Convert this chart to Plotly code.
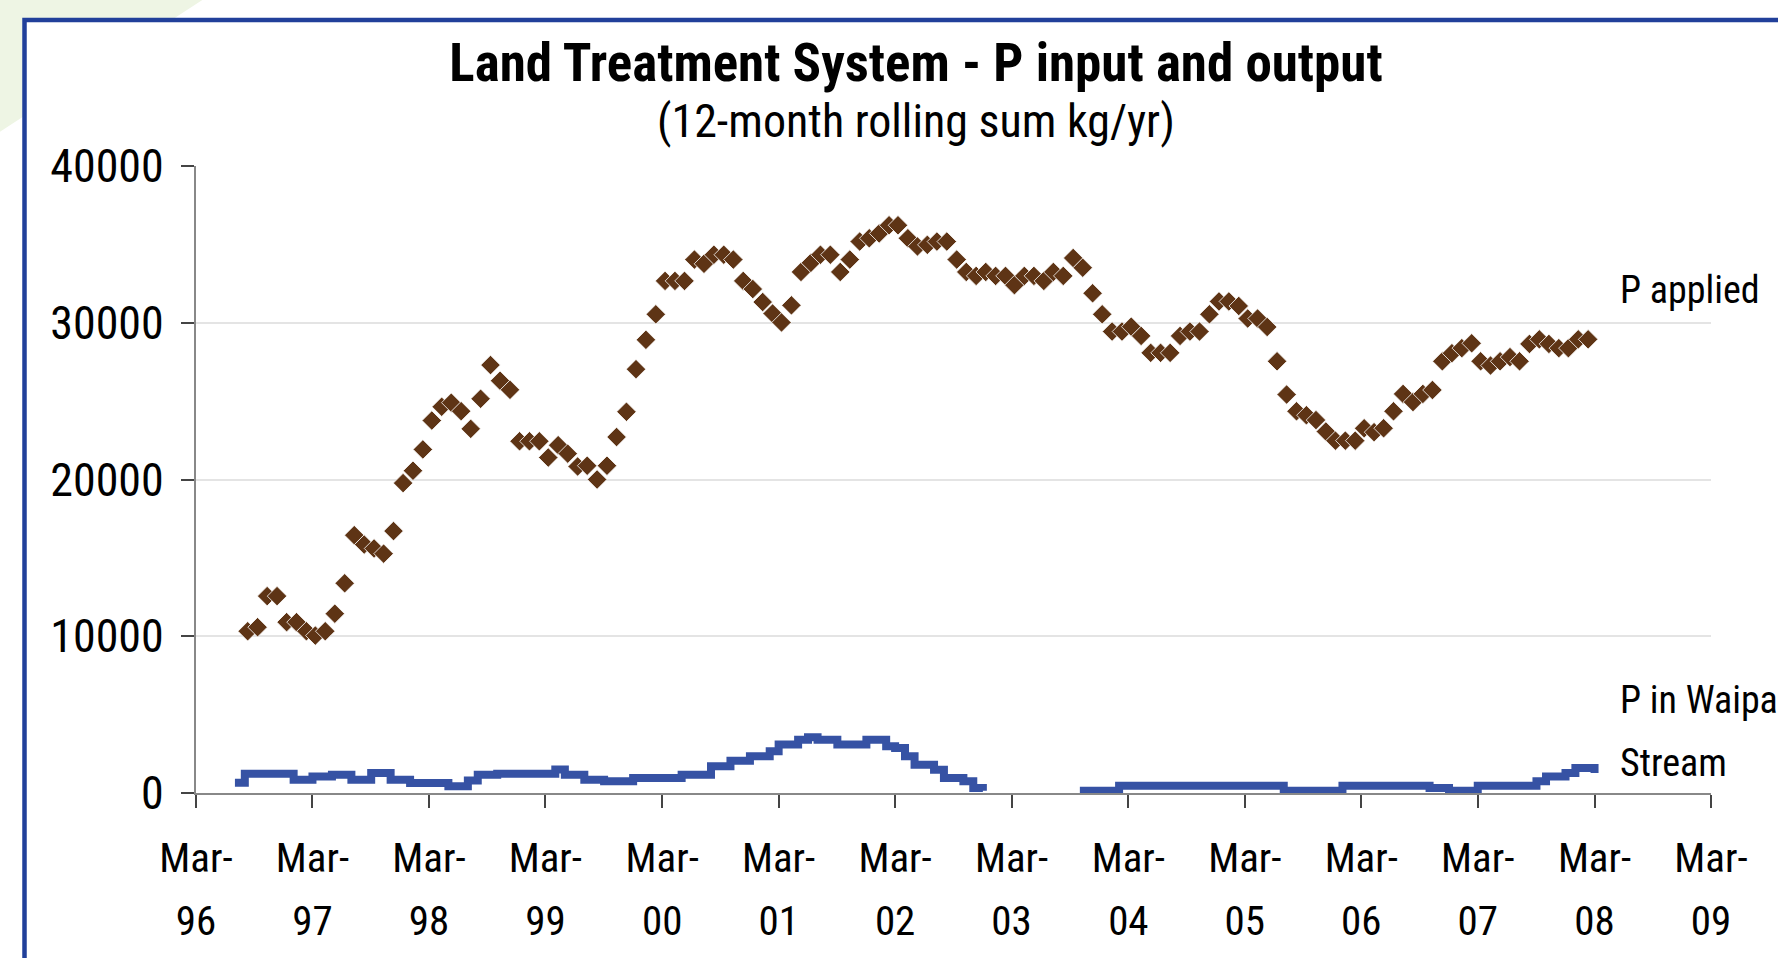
import pandas as pd
import plotly.graph_objects as go

# ---------------- data ----------------
applied_start = "1996-08-10"
p_applied = [
    10320, 10580, 12560, 12560, 10900, 10900, 10320, 10040, 10320, 11440,
    13380, 16450, 15850, 15600, 15270, 16710, 19770, 20560, 21920, 23760,
    24640, 24900, 24360, 23230, 25150, 27300, 26300, 25720, 22440, 22440,
    22440, 21400, 22190, 21650, 20830,
    20880, 20000, 20880, 22710, 24320, 27040, 28910, 30540, 32670, 32670,
    32670, 34030, 33760, 34340, 34340, 34030, 32670, 32150, 31320, 30590,
    30020, 31110, 33240, 33820, 34340, 34340, 33240, 34030, 35180, 35390,
    35700, 36220, 36220, 35390, 34870,
    34970, 35180, 35180, 34030, 33240, 32990, 33240, 32990, 32990, 32400,
    32990, 32990, 32670, 33240, 32990, 34130, 33510, 31880, 30540, 29440,
    29440, 29750, 29160, 28080, 28080, 28080, 29160, 29440, 29440, 30540,
    31360, 31360, 31070, 30270, 30270,
    29730, 27540, 25420, 24350, 24100, 23790, 23060, 22480, 22480, 22480,
    23270, 23020, 23270, 24350, 25460, 24940, 25460, 25710, 27540, 28060,
    28380, 28690, 27540, 27270, 27540, 27810, 27540, 28650, 28940, 28650,
    28380, 28380, 28940, 28940,
]

waipa_seg1_start = "1996-07-01"
waipa_seg1 = [
    650, 1230, 1230, 1230, 1230, 1230, 850, 850, 1060, 1060,
    1170, 1170, 850, 850, 1280, 1280, 850, 850, 640, 640,
    640, 640, 430, 430, 790, 1170, 1170, 1230, 1230, 1230,
    1230, 1230, 1230, 1500, 1170, 1170, 850, 850, 750, 750,
    750, 960, 960, 960, 960, 960, 1170, 1170, 1170, 1700,
    1700, 2060, 2060, 2340, 2340, 2660, 3090, 3090, 3400, 3550,
    3400, 3400, 3090, 3090, 3090, 3400, 3400, 2980, 2870, 2340,
    1810, 1810, 1490, 960, 960, 745, 320, 150,
]

waipa_seg2_start = "2003-10-01"
waipa_seg2 = [
    150, 150, 150, 150, 470, 470, 470, 470, 470, 470,
    470, 470, 470, 470, 470, 470, 470, 470, 470, 470,
    470, 150, 150, 150, 150, 150, 150, 470, 470, 470,
    470, 470, 470, 470, 470, 470, 320, 320, 150, 150,
    150, 470, 470, 470, 470, 470, 470, 745, 1060, 1060,
    1280, 1600, 1600, 1280,
]

tick_years = list(range(1996, 2010))
tick_dates = [f"{y}-03-01" for y in tick_years]
tick_month_labels = ["Mar-"] * len(tick_years)
tick_year_labels = [f"{y % 100:02d}" for y in tick_years]

y_ticks = [0, 10000, 20000, 30000, 40000]
y_labels = ["0", "10000", "20000", "30000", "40000"]

# ---------------- layout helpers ----------------
W, H = 1778, 958
ML, MR, MT, MB = 196, 67, 166, 165
PW, PH = W - ML - MR, H - MT - MB


def px(x):
    return (x - ML) / PW


def py(y):
    return (H - MB - y) / PH


def monthly(start, n):
    s = pd.Timestamp(start)
    return [s + pd.DateOffset(months=i) for i in range(n)]


FONT = ("Roboto Condensed, DejaVu Sans Condensed, Liberation Sans Narrow, "
        "Arial Narrow, Liberation Sans, Arial, sans-serif")
BROWN = "#5E3415"
BLUE = "#3652A4"
X_RANGE = ["1996-03-01", "2009-03-01"]

fig = go.Figure()

fig.add_trace(go.Scatter(
    x=monthly(waipa_seg1_start, len(waipa_seg1)), y=waipa_seg1,
    mode="lines", line=dict(color=BLUE, width=8, shape="hv"),
    name="P in Waipa Stream", showlegend=False,
))
fig.add_trace(go.Scatter(
    x=monthly(waipa_seg2_start, len(waipa_seg2)), y=waipa_seg2,
    mode="lines", line=dict(color=BLUE, width=8, shape="hv"),
    name="P in Waipa Stream", showlegend=False,
))
fig.add_trace(go.Scatter(
    x=monthly(applied_start, len(p_applied)), y=p_applied,
    mode="markers",
    marker=dict(symbol="diamond", size=15, color=BROWN,
                line=dict(width=0.8, color="white")),
    name="P applied", showlegend=False,
))
# invisible trace that anchors the second (year) label row of the date axis
fig.add_trace(go.Scatter(
    x=[X_RANGE[0], X_RANGE[1]], y=[None, None], xaxis="x2", yaxis="y",
    mode="markers", hoverinfo="skip", showlegend=False,
))

# background decoration: light green corner + blue framed panel
fig.add_shape(type="path", xref="paper", yref="paper",
              path=f"M {px(-5)},{py(-5)} L {px(210)},{py(-5)} L {px(-5)},{py(135)} Z",
              fillcolor="#EEF5E4", line=dict(width=0), layer="below")
fig.add_shape(type="rect", xref="paper", yref="paper",
              x0=px(24.5), y0=py(20), x1=px(1820), y1=py(1000),
              fillcolor="white", line=dict(color="#21409A", width=4.5),
              layer="below")

fig.update_layout(
    width=W, height=H,
    margin=dict(l=ML, r=MR, t=MT, b=MB, autoexpand=False),
    paper_bgcolor="white", plot_bgcolor="rgba(0,0,0,0)",
    font=dict(family=FONT, color="black"),
    showlegend=False,
    title=dict(
        text="<b>Land Treatment System - P input and output</b>",
        font=dict(family=FONT, size=53, color="black"),
        xref="container", x=916 / W, xanchor="center",
        yref="container", y=1 - 62 / H, yanchor="middle",
    ),
    xaxis=dict(
        type="date", range=X_RANGE,
        tickmode="array", tickvals=tick_dates, ticktext=tick_month_labels,
        ticks="outside", ticklen=13, tickwidth=1.5, tickcolor="#444",
        showline=True, linecolor="#888", linewidth=2,
        showgrid=False, zeroline=False, layer="below traces",
        tickfont=dict(family=FONT, size=41, color="black"),
        ticklabelstandoff=15,
    ),
    xaxis2=dict(
        type="date", range=X_RANGE, overlaying="x", anchor="y", side="bottom",
        tickmode="array", tickvals=tick_dates, ticktext=tick_year_labels,
        ticks="outside", ticklen=13, tickcolor="rgba(0,0,0,0)",
        showline=False, showgrid=False, zeroline=False,
        tickfont=dict(family=FONT, size=41, color="black"),
        ticklabelstandoff=79,
    ),
    yaxis=dict(
        range=[0, 40000], tickmode="array", tickvals=y_ticks, ticktext=y_labels,
        ticks="outside", ticklen=13, tickwidth=1.5, tickcolor="#444",
        showline=True, linecolor="#888", linewidth=2,
        showgrid=True, gridcolor="#E4E4E4", gridwidth=1.5,
        zeroline=False, layer="below traces",
        tickfont=dict(family=FONT, size=46, color="black"),
        ticklabelstandoff=8,
    ),
    annotations=[
        dict(text="(12-month rolling sum kg/yr)", xref="paper", yref="paper",
             x=px(916), y=py(121), xanchor="center", yanchor="middle",
             showarrow=False, font=dict(family=FONT, size=46, color="black")),
        dict(text="P applied", xref="paper", yref="paper",
             x=px(1618), y=py(290), xanchor="left", yanchor="middle",
             showarrow=False, font=dict(family=FONT, size=38, color="black")),
        dict(text="P in Waipa", xref="paper", yref="paper",
             x=px(1618), y=py(700), xanchor="left", yanchor="middle",
             showarrow=False, font=dict(family=FONT, size=38, color="black")),
        dict(text="Stream", xref="paper", yref="paper",
             x=px(1618), y=py(763), xanchor="left", yanchor="middle",
             showarrow=False, font=dict(family=FONT, size=38, color="black")),
    ],
)

# remove the browser's default 8px page margin so the figure sits at (0, 0)
fig.write_html("out.html",
               config={"displayModeBar": False},
               post_script="document.body.style.margin='0';"
                           "document.body.style.overflow='hidden';")
